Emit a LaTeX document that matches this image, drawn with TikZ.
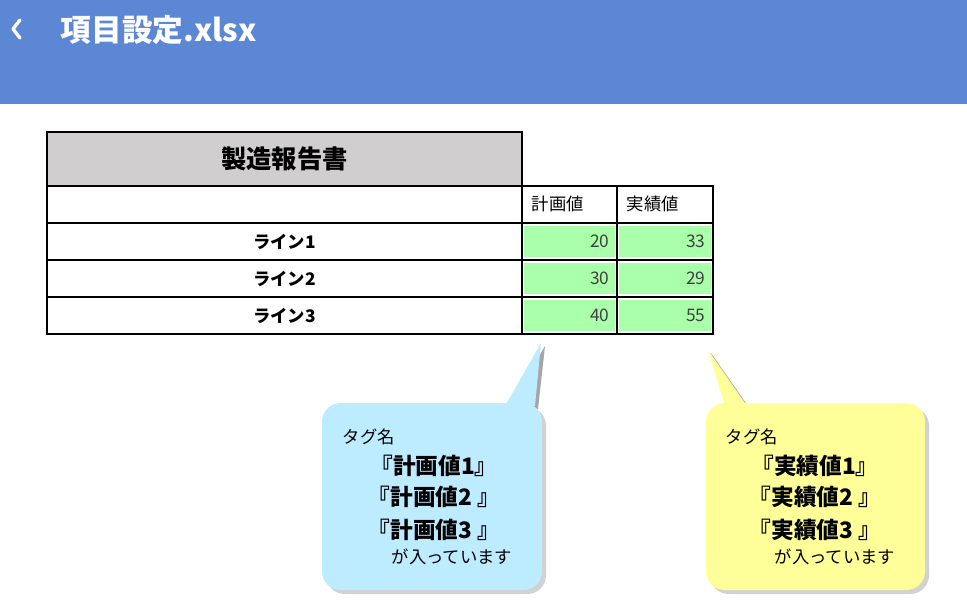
\documentclass[tikz,border=0pt]{standalone}
\usepackage{fontspec}
\setmainfont{Noto Sans CJK JP}
\usetikzlibrary{shadows}
\definecolor{hdr}{HTML}{5B87D4}
\definecolor{cellg}{HTML}{AAFFAA}
\definecolor{ttl}{HTML}{D0CECE}
\definecolor{cb}{HTML}{BDEBFF}
\definecolor{cy}{HTML}{FFFF99}
\tikzset{x=0.75pt,y=-0.75pt,
 cell/.style={draw=black,line width=0.9pt},
 num/.style={anchor=east,font=\fontsize{13}{13}\selectfont,text=black!75},
 lab/.style={font=\fontsize{13}{13}\selectfont},
 callout/.style={rounded corners=14pt,drop shadow={shadow xshift=3pt,shadow yshift=-3pt,fill=black!35}},
 big/.style={font=\bfseries\fontsize{17}{17}\selectfont},
 small/.style={font=\fontsize{13}{13}\selectfont}}
\begin{document}
\begin{tikzpicture}
\useasboundingbox (0,0) rectangle (967,613);
\fill[white] (0,0) rectangle (967,613);
\fill[hdr] (0,0) rectangle (967,104);
\draw[white,line width=2.5pt,line cap=round,line join=round] (20,20)--(13,29)--(20,38);
\node[anchor=west,text=white,font=\bfseries\fontsize{23}{23}\selectfont] (title) at (56,30) {項目設定.xlsx};
% table
\draw[cell,fill=ttl] (47,132) rectangle (522,186);
\node[font=\bfseries\fontsize{19}{19}\selectfont] (t) at (284.5,159) {製造報告書};
\draw[cell] (47,186) rectangle (522,223);
\draw[cell] (522,186) rectangle (617,223);
\draw[cell] (617,186) rectangle (713,223);
\node[lab,anchor=west] (h1) at (527,204) {計画値};
\node[lab,anchor=west] (h2) at (622,204) {実績値};
\foreach \i/\a/\b [count=\k] in {1/20/33,2/30/29,3/40/55}{
  \pgfmathsetmacro\yt{223+37*(\k-1)}
  \pgfmathsetmacro\yb{\yt+37}
  \draw[cell] (47,\yt) rectangle (522,\yb);
  \draw[cell] (522,\yt) rectangle (617,\yb);
  \draw[cell] (617,\yt) rectangle (713,\yb);
  \fill[cellg] (524,\yt+3) rectangle (615,\yb-3);
  \fill[cellg] (619,\yt+3) rectangle (711,\yb-3);
  \node[lab,font=\bfseries\fontsize{13}{13}\selectfont] (r\k) at (284.5,\yt+18.5) {ライン\i};
  \node[num] (a\k) at (614,\yt+18.5) {\a};
  \node[num] (b\k) at (710,\yt+18.5) {\b};
}
% callouts
\fill[black!35] (545,346)--(508,409)--(538,409)--cycle;
\fill[black!35] (711,353)--(728,409)--(750,409)--cycle;
\path[callout,fill=cb] (322,403) rectangle (542,590);
\path[callout,fill=cy] (706,403) rectangle (925,590);
\fill[cb] (541,343)--(505,406)--(535,406)--cycle;
\fill[cy] (708,350)--(725,406)--(747,406)--cycle;
\node[small,anchor=west] (ta) at (338,437) {タグ名};
\node[big] (ba1) at (434,466) {『計画値1』};
\node[big] (ba2) at (434,497) {『計画値2 』};
\node[big] (ba3) at (434,530) {『計画値3 』};
\node[small] (ea) at (452,557) {が入っています};
\node[small,anchor=west] (tb) at (721,437) {タグ名};
\node[big] (bb1) at (815,466) {『実績値1』};
\node[big] (bb2) at (815,497) {『実績値2 』};
\node[big] (bb3) at (815,530) {『実績値3 』};
\node[small] (eb) at (835,557) {が入っています};
\end{tikzpicture}
\end{document}
